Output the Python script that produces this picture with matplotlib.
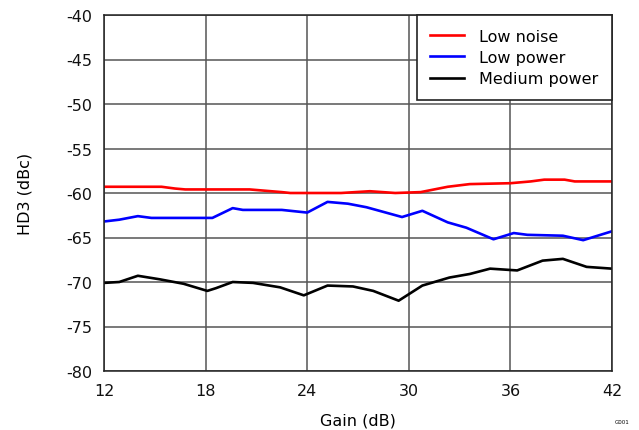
import matplotlib
matplotlib.use('Agg')
import matplotlib.pyplot as plt

# values
gain_ln = [12, 15.4, 16.2, 16.8, 20.6, 22.5, 23, 26, 27.7, 29.2, 30.7, 32.3, 33.6, 36, 37.2, 38, 39.2, 39.8, 42]
low_noise = [-59.3, -59.3, -59.5, -59.6, -59.6, -59.9, -60.0, -60.0, -59.8, -60.0, -59.9, -59.3, -59.0, -58.9, -58.7, -58.5, -58.5, -58.7, -58.7]

gain_lp = [12, 12.9, 14, 14.8, 18.4, 19.6, 20.2, 22.5, 24, 25.2, 26.4, 27.5, 29.6, 30.8, 32.3, 33.4, 35, 36.2, 37, 39.1, 40.3, 42]
low_power = [-63.2, -63.0, -62.6, -62.8, -62.8, -61.7, -61.9, -61.9, -62.2, -61.0, -61.2, -61.6, -62.7, -62.0, -63.3, -63.9, -65.2, -64.5, -64.7, -64.8, -65.3, -64.3]

gain_mp = [12, 12.9, 14, 15.3, 16.7, 18.1, 18.6, 19.6, 20.8, 22.4, 23.8, 25.2, 26.7, 27.9, 29.4, 30.8, 32.4, 33.6, 34.8, 36.4, 37.9, 39.1, 40.5, 42]
medium_power = [-70.1, -70.0, -69.3, -69.7, -70.2, -71.0, -70.7, -70.0, -70.1, -70.6, -71.5, -70.4, -70.5, -71.0, -72.1, -70.4, -69.5, -69.1, -68.5, -68.7, -67.6, -67.4, -68.3, -68.5]

xticks = [12, 18, 24, 30, 36, 42]
yticks = [-40, -45, -50, -55, -60, -65, -70, -75, -80]

plt.rcParams['font.family'] = ['DejaVu Sans']
plt.rcParams['axes.unicode_minus'] = False

fig = plt.figure(figsize=(6.39, 4.31), dpi=100)
ax = fig.add_axes([104 / 639, 1 - 372 / 431, 508 / 639, 356 / 431])

ax.plot(gain_ln, low_noise, color='#ff0000', lw=1.9, label='Low noise')
ax.plot(gain_lp, low_power, color='#0000ff', lw=1.9, label='Low power')
ax.plot(gain_mp, medium_power, color='#000000', lw=1.9, label='Medium power')

ax.set_xlim(12, 42)
ax.set_ylim(-80, -40)
ax.set_xticks(xticks)
ax.set_yticks(yticks)
ax.tick_params(length=0, labelsize=11.5, colors='#111111')
ax.tick_params(axis='x', pad=9)
ax.tick_params(axis='y', pad=8.5)
ax.grid(True, color='#555555', lw=1.1)
for s in ax.spines.values():
    s.set_color('#222222')
    s.set_linewidth(1.1)

ax.set_xlabel('Gain (dB)', fontsize=11.5, labelpad=10)
ax.set_ylabel('HD3 (dBc)', fontsize=11.5, labelpad=24)

leg = ax.legend(loc='upper right', fontsize=11.5, fancybox=False, framealpha=1,
                edgecolor='#222222', borderaxespad=0, handlelength=2.1,
                handletextpad=0.95, labelspacing=0.4, borderpad=0.85)
leg.get_frame().set_linewidth(1.2)

fig.text(0.985, 0.015, 'G001', fontsize=4, ha='right', va='bottom')

fig.savefig('out.png', dpi=100)
